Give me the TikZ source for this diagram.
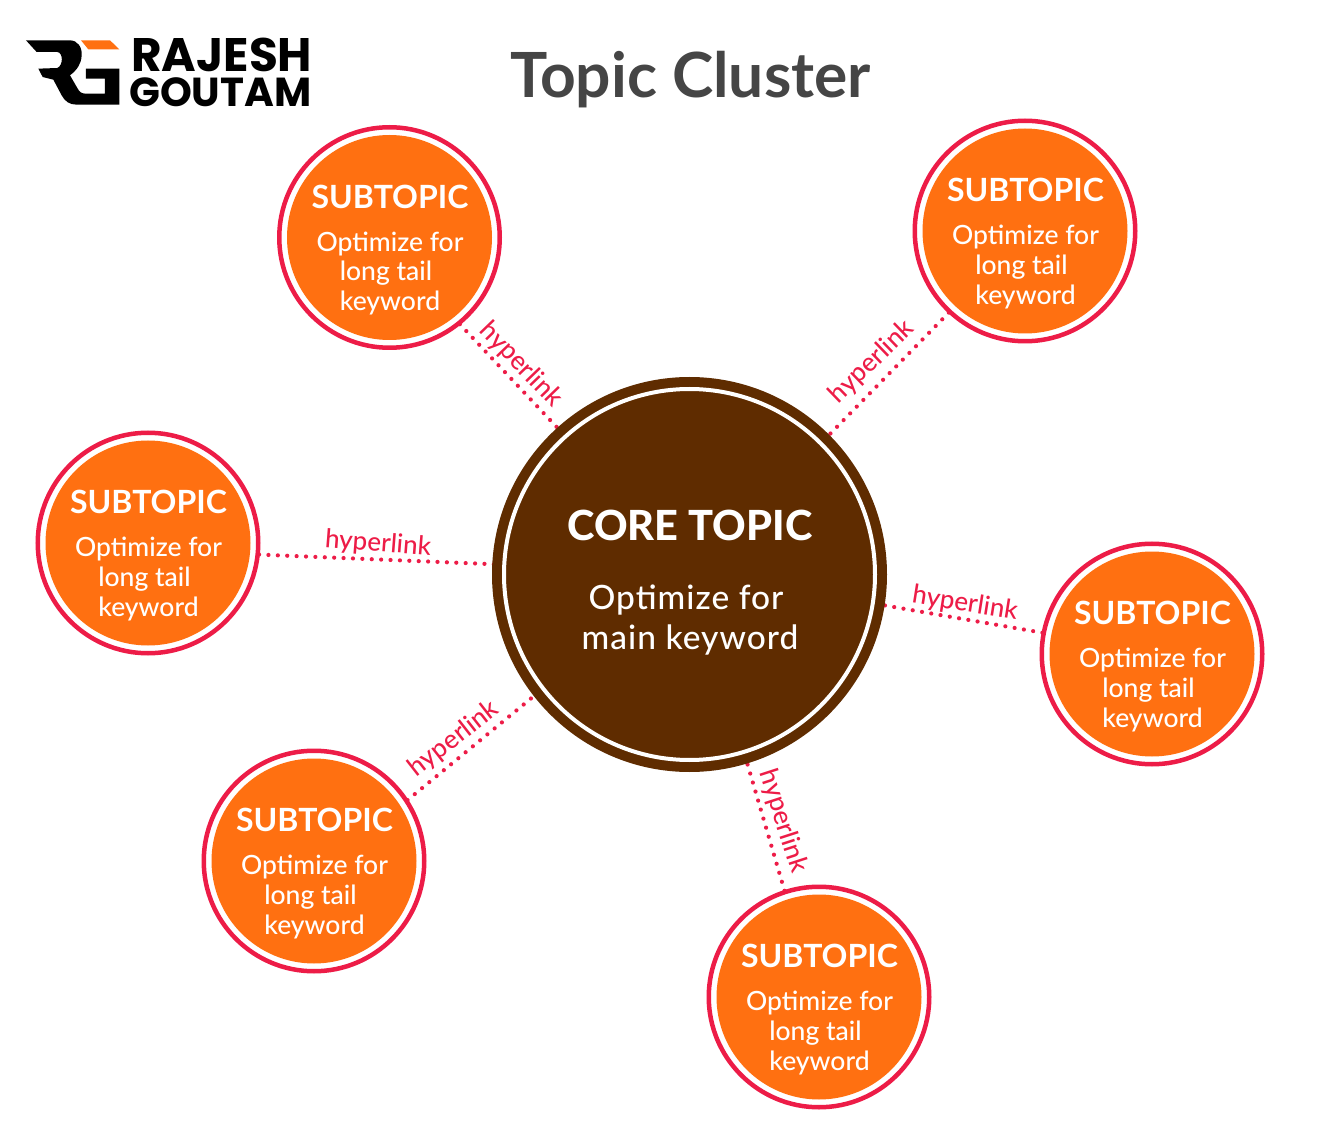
\documentclass[tikz,border=0pt]{standalone}
\usetikzlibrary{backgrounds}
\usepackage{fontspec}
\setmainfont{Lato}[UprightFont=* Medium,BoldFont=* Bold]
\newfontfamily\logofont{Poppins}[UprightFont=* Bold,BoldFont=* Bold]
\newfontfamily\coreheadfont{Lato}[UprightFont=* Heavy]
\newfontfamily\corebodyfont{Lato}[UprightFont=* Medium,LetterSpace=3]
\definecolor{brandred}{HTML}{ED1C47}
\definecolor{brandorange}{HTML}{FF7011}
\definecolor{corebrown}{HTML}{5F2C00}
\definecolor{titlegrey}{HTML}{454545}
\tikzset{
  subring/.style={circle,draw=brandred,fill=white,line width=4.5pt,minimum size=220.5pt,inner sep=0pt,outer sep=0pt},
  subdisc/.style={circle,fill=brandorange,minimum size=205pt,inner sep=0pt,outer sep=0pt},
  corediscshape/.style={circle,fill=corebrown,minimum size=395pt,inner sep=0pt,outer sep=0pt},
  corering/.style={circle,draw=white,line width=4pt,minimum size=371pt,inner sep=0pt,outer sep=0pt},
  subhead/.style={text=white,font=\bfseries\fontsize{32}{32}\selectfont,inner sep=0pt},
  subbody/.style={text=white,font=\fontsize{26.5}{26.5}\selectfont,inner sep=0pt},
  linklabel/.style={text=brandred,font=\fontsize{26}{26}\selectfont,inner sep=0pt},
  linkline/.style={draw=brandred,line width=4.2pt,line cap=round,dash pattern=on 0pt off 9.4pt,shorten <=-8pt,shorten >=-12pt},
}
% One subtopic: ring, disc and four text lines
\newcommand{\subtopicat}[3]{%
  \node[subring] (#1) at (#2,#3) {};
  \node[subdisc] (#1disc) at (#1) {};
  \node[subhead] (#1head) at (#2+0.5,#3-41) {SUBTOPIC};
  \node[subbody] (#1a) at (#2+0.5,#3+6.5) {Optimize for};
  \node[subbody] (#1b) at (#2-3.5,#3+36) {long tail};
  \node[subbody] (#1c) at (#2+0.5,#3+65.5) {keyword};
}
\begin{document}
\begin{tikzpicture}[x=1pt,y=-1pt]
\useasboundingbox (0,0) rectangle (1334,1147);

% Heading
\node[text=titlegrey,font=\bfseries\fontsize{62.3}{62.3}\selectfont,inner sep=0pt] (title) at (690.5,80) {Topic Cluster};

% Logo mark and wordmark
\begin{scope}[shift={(20,32)},x=0.3333pt,y=-0.3333pt]
  \fill[black] (18,25) -- (150,25) .. controls (172,25) and (187,45) .. (185,70)
    .. controls (184,95) and (172,113) .. (150,130) -- (172,168)
    .. controls (178,180) and (185,185) .. (197,185) -- (255,185) -- (255,140) -- (198,140)
    -- (198,110) -- (298,110) -- (298,218) -- (170,218)
    .. controls (148,218) and (135,208) .. (125,190) -- (100,143) -- (68,135) -- (55,110) -- (112,108)
    .. controls (130,100) and (130,62) .. (112,60) -- (50,60) -- cycle;
  \fill[brandorange] (183,25) -- (270,25) -- (298,52) -- (205,52) -- cycle;
\end{scope}
\node[anchor=base west,inner sep=0pt,font=\logofont\fontsize{47}{47}\selectfont] (logoa) at (131,72) {RAJESH};
\node[anchor=base west,inner sep=0pt,font=\logofont\fontsize{40.5}{40.5}\selectfont] (logob) at (129,107) {GOUTAM};

% Core topic
\node[corediscshape] (core) at (689.5,574.5) {};
\node[corering] (corerim) at (core) {};
\node[text=white,font=\coreheadfont\fontsize{41.5}{41.5}\selectfont,inner sep=0pt] (coretitle) at (690,525) {CORE TOPIC};
\node[text=white,font=\corebodyfont\fontsize{33.5}{33.5}\selectfont,inner sep=0pt] (corea) at (686,600) {Optimize for};
\node[text=white,font=\corebodyfont\fontsize{33.5}{33.5}\selectfont,inner sep=0pt] (coreb) at (690,640) {main keyword};

% Subtopics
\subtopicat{sa}{389.5}{237.5}
\subtopicat{sb}{1025}{231}
\subtopicat{sc}{148}{543}
\subtopicat{sd}{1152}{654}
\subtopicat{se}{314}{861}
\subtopicat{sf}{819}{997}

% Hyperlink connectors run beneath the discs so the dots meet each edge
\begin{pgfonlayer}{background}
\fill[white] (0,0) rectangle (1334,1147);
\draw[linkline] (sa.-51.5) -- (core.132.6);
\draw[linkline] (sb.-133.6) -- (core.45.4);
\draw[linkline] (sc.-6.2) -- (core.177.4);
\draw[linkline] (sd.169.7) -- (core.-9.3);
\draw[linkline] (se.33.8) -- (core.218.6);
\draw[linkline] (sf.108.4) -- (core.-73.4);
\end{pgfonlayer}

% Connector labels
\node[linklabel,rotate=-46] (la) at (521,365) {hyperlink};
\node[linklabel,rotate=44] (lb) at (872,362) {hyperlink};
\node[linklabel,rotate=-4.5] (lc) at (378,544) {hyperlink};
\node[linklabel,rotate=-9] (ld) at (965,604) {hyperlink};
\node[linklabel,rotate=38] (le) at (454,739) {hyperlink};
\node[linklabel,rotate=-72] (lf) at (783,821) {hyperlink};
\end{tikzpicture}
\end{document}
